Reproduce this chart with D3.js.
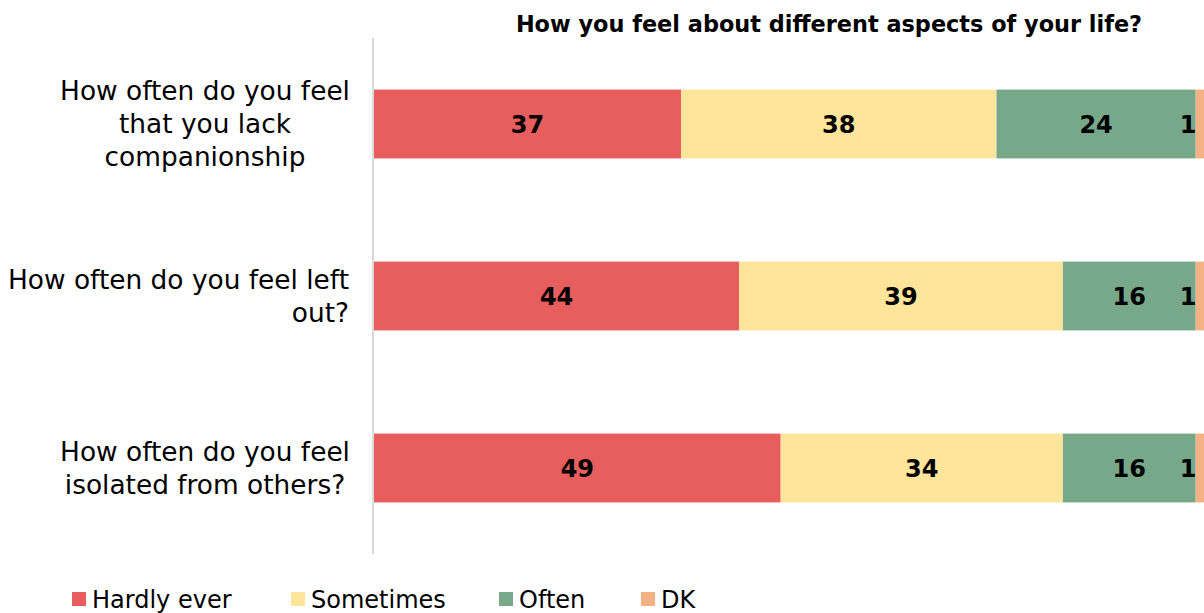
<!DOCTYPE html>
<html>
<head>
<meta charset="utf-8">
<script src="https://cdn.jsdelivr.net/npm/d3@7"></script>
<style>
  html, body { margin: 0; padding: 0; background: #fff; }
  svg { display: block; }
  text { font-family: "DejaVu Sans", "Liberation Sans", sans-serif; fill: #000; }
</style>
</head>
<body>
<svg id="chart" width="1204" height="613"></svg>
<script>
// Survey questions (one wrapped label per bar)
const categories = [
  "How often do you feel that you lack companionship",
  "How often do you feel left out?",
  "How often do you feel isolated from others?"
];
const categoryLines = [
  ["How often do you feel", "that you lack", "companionship"],
  ["How often do you feel left", "out?"],
  ["How often do you feel", "isolated from others?"]
];
const seriesNames = ["Hardly ever", "Sometimes", "Often", "DK"];
const hardlyEver = [37, 44, 49];
const sometimes  = [38, 39, 34];
const often      = [24, 16, 16];
const dk         = [1, 1, 1];
const title = "How you feel about different aspects of your life?";
const colors = ["#E85E5F", "#FFE59A", "#77A88A", "#F4B183"];

const rows = categories.map((c, i) => ({
  category: c,
  "Hardly ever": hardlyEver[i],
  "Sometimes": sometimes[i],
  "Often": often[i],
  "DK": dk[i]
}));

const svg = d3.select("#chart");
const plot = { left: 374, right: 1204, top: 38, bottom: 554 };

const x = d3.scaleLinear().domain([0, 100]).range([plot.left, plot.right]);
const y = d3.scaleBand().domain(categories).range([plot.top, plot.bottom]).paddingInner(0.6).paddingOuter(0.3);
const color = d3.scaleOrdinal().domain(seriesNames).range(colors);

const stack = d3.stack().keys(seriesNames)(rows);

// Title
svg.append("text")
  .attr("x", 829).attr("y", 32)
  .attr("text-anchor", "middle")
  .attr("font-weight", "bold")
  .attr("font-size", 22.4)
  .text(title);

// Bars
const layers = svg.append("g").selectAll("g").data(stack).join("g")
  .attr("fill", d => color(d.key));
layers.selectAll("rect").data(d => d).join("rect")
  .attr("x", d => x(d[0]))
  .attr("y", d => y(d.data.category))
  .attr("width", d => x(d[1]) - x(d[0]))
  .attr("height", y.bandwidth());

// Value labels
const labels = svg.append("g");
stack.forEach(layer => {
  layer.forEach(d => {
    const val = d[1] - d[0];
    let cx = (x(d[0]) + x(d[1])) / 2;
    if (layer.key === "DK") cx = x(d[1]) - 16;
    labels.append("text")
      .attr("x", cx)
      .attr("y", y(d.data.category) + y.bandwidth() / 2)
      .attr("dy", "0.36em")
      .attr("text-anchor", "middle")
      .attr("font-weight", "bold")
      .attr("font-size", 24)
      .text(val);
  });
});

// Category axis line
svg.append("line")
  .attr("x1", plot.left - 1).attr("x2", plot.left - 1)
  .attr("y1", plot.top).attr("y2", plot.bottom)
  .attr("stroke", "#d9d9d9").attr("stroke-width", 2);

// Category labels (wrapped)
const lineH = 33;
categories.forEach((c, i) => {
  const lines = categoryLines[i];
  const cy = y(c) + y.bandwidth() / 2;
  const rightAligned = i === 1;
  const t = svg.append("text")
    .attr("font-size", 26.4)
    .attr("text-anchor", rightAligned ? "end" : "middle");
  lines.forEach((ln, j) => {
    t.append("tspan")
      .attr("x", rightAligned ? 349 : 205)
      .attr("y", cy + (j - (lines.length - 1) / 2) * lineH)
      .attr("dy", "0.35em")
      .text(ln);
  });
});

// Legend
const legendX = [72, 291, 499, 641];
const legend = svg.append("g");
seriesNames.forEach((s, i) => {
  const g = legend.append("g").attr("transform", `translate(${legendX[i]},599)`);
  g.append("rect").attr("x", 0).attr("y", -7).attr("width", 14).attr("height", 14).attr("fill", color(s));
  g.append("text").attr("x", 20).attr("y", 0).attr("dy", "0.36em").attr("font-size", 24).text(s);
});
</script>
</body>
</html>
